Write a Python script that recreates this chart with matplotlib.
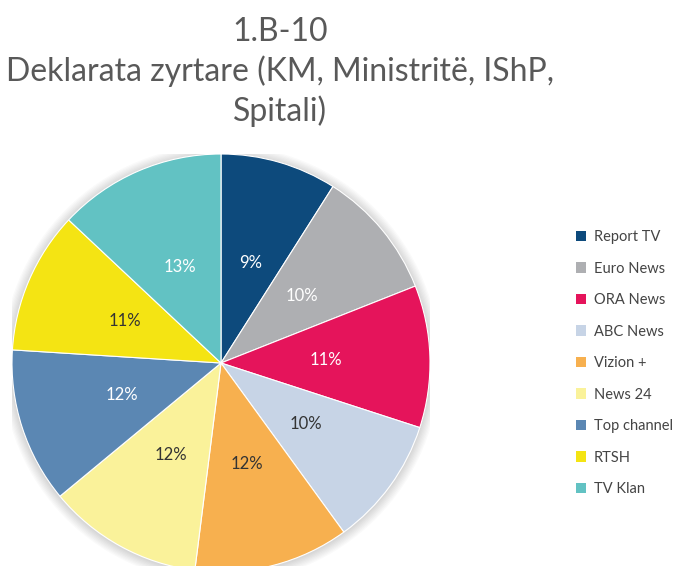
import matplotlib
matplotlib.use("Agg")
import matplotlib.pyplot as plt
from matplotlib.patches import Patch, Circle

labels = ["Report TV", "Euro News", "ORA News", "ABC News", "Vizion +",
          "News 24", "Top channel", "RTSH", "TV Klan"]
values = [9, 10, 11, 10, 12, 12, 12, 11, 13]
colors = ["#0d4a7c", "#aeafb2", "#e5145b", "#c7d4e6", "#f7b04f",
          "#faf29a", "#5b87b3", "#f4e413", "#62c2c3"]
text_colors = ["white", "white", "white", "#333333", "#333333",
               "#333333", "white", "#333333", "white"]
title = "1.B-10\nDeklarata zyrtare (KM, Ministritë, IShP,\nSpitali)"

plt.rcParams['font.family'] = ['Lato', 'DejaVu Sans']

fig = plt.figure(figsize=(6.74, 5.66), dpi=100)
W, H = 674, 566
cx, cy, r = 221, 363, 209
ax = fig.add_axes([(cx - r) / W, (H - cy - r) / H, 2 * r / W, 2 * r / H])
ax.set_xlim(-1, 1)
ax.set_ylim(-1, 1)
ax.set_aspect('equal')
ax.axis('off')

# soft shadow
for i in range(8):
    ax.add_patch(Circle((0.0, -0.005), 1.0 + 0.006 * (i + 1), color='black',
                        alpha=0.018, lw=0, zorder=0))

wedges, texts, autotexts = ax.pie(values, colors=colors, startangle=90,
                                  counterclock=False, radius=1.0,
                                  autopct=lambda p: f"{p:.0f}%", pctdistance=0.5,
                                  wedgeprops=dict(linewidth=0.8, edgecolor='white'),
                                  textprops=dict(fontsize=12))
for t, c in zip(autotexts, text_colors):
    t.set_color(c)
ax.set_xlim(-1, 1)
ax.set_ylim(-1, 1)

fig.text(280 / W, 1 - 17 / H, title, ha='center', va='top', fontsize=23,
         color='#595959', linespacing=1.33)

handles = [Patch(facecolor=c, edgecolor='none') for c in colors]
fig.legend(handles, labels, loc='upper left', bbox_to_anchor=(563 / W, 1 - 217 / H),
           frameon=False, fontsize=10.5, labelspacing=1.2, handlelength=0.7,
           handleheight=0.7, handletextpad=0.5, labelcolor='#444444')

fig.savefig("out.png", dpi=100)
